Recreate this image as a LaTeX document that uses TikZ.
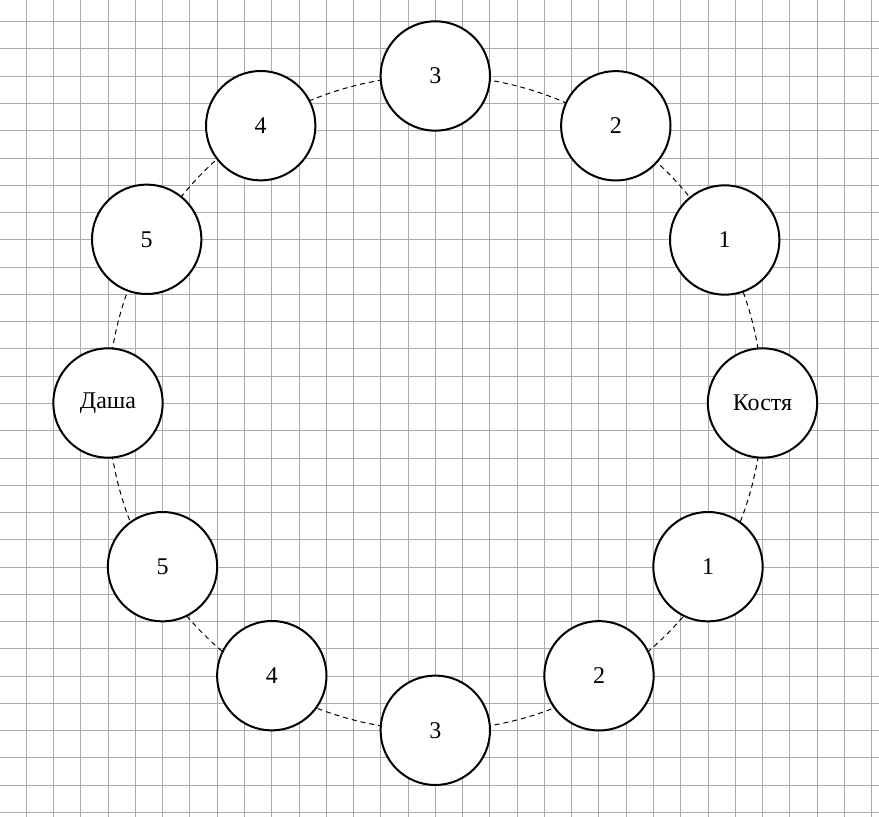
\documentclass[tikz,border=0pt]{standalone}
\usepackage{fontspec}
\setmainfont{Liberation Serif}
\begin{document}
\begin{tikzpicture}[x=0.5pt,y=-0.5pt,
  gridline/.style={draw=gray!65,line width=0.5pt},
  seat/.style={circle,draw=black,fill=white,line width=1pt,minimum size=54.7pt,inner sep=0pt,font=\fontsize{12pt}{14pt}\selectfont},
  ring/.style={draw=black,line width=0.5pt,dash pattern=on 2.5pt off 2pt}]
\useasboundingbox (0,0) rectangle (879,817);
\fill[white] (0,0) rectangle (879,817);
\foreach \k in {0,...,31} \draw[gridline] ({26.3+27.27*\k},0) -- ({26.3+27.27*\k},817);
\foreach \k in {0,...,29} \draw[gridline] (0,{21.7+27.27*\k}) -- (879,{21.7+27.27*\k});
\coordinate (C) at (435.25,403);
\draw[ring] (C) circle[radius=163.63pt];
\node[seat] (kostya) at (762.5,403) {Костя};
\node[seat] (r1) at (724.7,240) {1};
\node[seat] (r2) at (615.8,125.8) {2};
\node[seat] (t3) at (435.3,76) {3};
\node[seat] (l4) at (260.7,125.7) {4};
\node[seat] (l5) at (146.7,239.3) {5};
\node[seat] (dasha) at (108,403) {Даша};
\node[seat] (ll5) at (162.5,566.7) {5};
\node[seat] (ll4) at (271.8,675.7) {4};
\node[seat] (b3) at (435.3,730.3) {3};
\node[seat] (lr2) at (599,675.8) {2};
\node[seat] (lr1) at (708,566.7) {1};
\end{tikzpicture}
\end{document}
